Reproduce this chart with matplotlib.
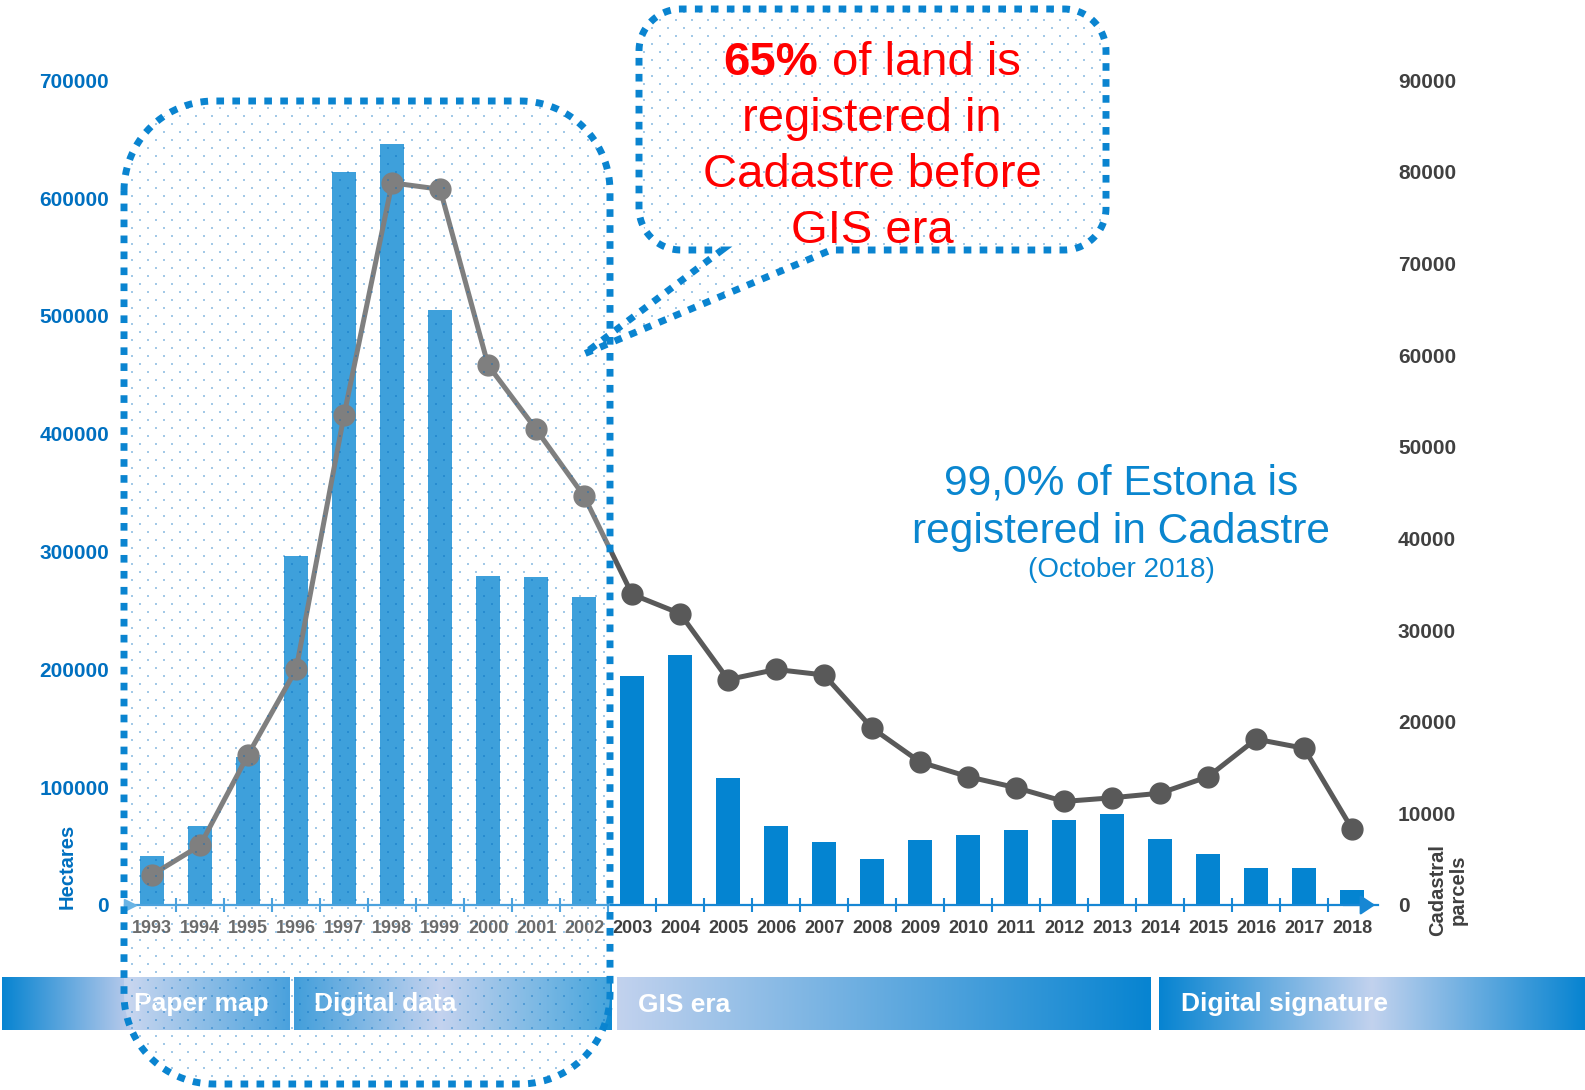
import numpy as np
import matplotlib
matplotlib.use("Agg")
import matplotlib.pyplot as plt
from matplotlib.patches import PathPatch
from matplotlib.path import Path
from matplotlib.colors import LinearSegmentedColormap

plt.rcParams['font.family'] = ['Liberation Sans', 'DejaVu Sans']

# ---------------- data ----------------
years = [str(y) for y in range(1993, 2019)]
hectares = [41500, 67000, 126000, 296000, 622000, 646000, 505000, 279000, 278000, 261000,
            194000, 212000, 108000, 67000, 53500, 39000, 55000, 59000, 64000, 72500,
            77500, 56000, 43000, 31000, 31000, 12500]
parcels = [3300, 6500, 16400, 25700, 53500, 78800, 78100, 58900, 51900, 44600,
           33900, 31800, 24600, 25700, 25100, 19300, 15600, 14000, 12800, 11300,
           11700, 12200, 14000, 18100, 17100, 8300]
left_ticks = [0, 100000, 200000, 300000, 400000, 500000, 600000, 700000]
right_ticks = [0, 10000, 20000, 30000, 40000, 50000, 60000, 70000, 80000, 90000]
eras = ['Paper map', 'Digital data', 'GIS era', 'Digital signature']
callout_lines = ['registered in', 'Cadastre before', 'GIS era']
note_lines = ['99,0% of Estona is', 'registered in Cadastre', '(October 2018)']

# ---------------- style ----------------
W, H = 1585, 1090
BAR = '#0484D1'
LINE = '#595959'
AXBLUE = '#1787D4'
LBLUE = '#0070C0'
DGRAY = '#404040'
BORDER = '#0A84D0'

fig = plt.figure(figsize=(W / 100, H / 100), dpi=100)
fig.patch.set_facecolor('white')

ax_l, ax_r, ax_b, ax_t = 125, 1378, 905, 80.2
ax = fig.add_axes([ax_l / W, 1 - ax_b / H, (ax_r - ax_l) / W, (ax_b - ax_t) / H])
ax.patch.set_visible(False)
x = np.arange(len(years))
ax.bar(x, hectares, width=0.5, color=BAR, zorder=2)
ax.set_xlim(-0.565, 25.54)
ax.set_ylim(0, 700000)
ax.set_yticks(left_ticks)
ax.set_yticklabels([str(v) for v in left_ticks], fontsize=15, fontweight='bold', color=LBLUE)
ax.tick_params(axis='y', length=0, pad=11.5)
ax.set_xticks(x)
ax.set_xticklabels(years, fontsize=13, fontweight='bold', color=DGRAY)
ax.tick_params(axis='x', which='major', length=0, pad=11)
ax.set_xticks(x[:-1] + 0.5, minor=True)
ax.tick_params(axis='x', which='minor', direction='inout', length=10, width=1.5, color=AXBLUE)
for s in ['left', 'right', 'top']:
    ax.spines[s].set_visible(False)
ax.spines['bottom'].set_color(AXBLUE)
ax.spines['bottom'].set_linewidth(1.6)
ax.set_ylabel('Hectares', fontsize=14.5, fontweight='bold', color=LBLUE, va='center')
ax.yaxis.set_label_coords((67 - ax_l) / (ax_r - ax_l), (ax_b - 866) / (ax_b - ax_t))
# axis arrows
ax.annotate('', xy=(1.0, 0), xytext=(0.97, 0), xycoords='axes fraction',
            arrowprops=dict(arrowstyle='-|>,head_length=0.45,head_width=0.3',
                            color=AXBLUE, lw=1.6, mutation_scale=20),
            annotation_clip=False)
ax.plot([0.004], [0], marker='>', ms=9, color='#3C9DDC', transform=ax.transAxes,
        clip_on=False, zorder=5)

ax2 = ax.twinx()
ax2.plot(x, parcels, color=LINE, lw=3.6, marker='o', ms=15, clip_on=False, zorder=3)
ax2.set_ylim(0, 90000)
ax2.set_yticks(right_ticks)
ax2.set_yticklabels([str(v) for v in right_ticks], fontsize=15, fontweight='bold', color=DGRAY)
ax2.tick_params(axis='y', length=0, pad=14.4)
for s in ax2.spines.values():
    s.set_visible(False)
ax2.set_ylabel('Cadastral\nparcels', fontsize=14.5, fontweight='bold', color=DGRAY,
               va='center', ha='center', multialignment='center', rotation=90, linespacing=1.05)
ax2.yaxis.set_label_coords((1448 - ax_l) / (ax_r - ax_l), (ax_b - 890) / (ax_b - ax_t))

# ---------------- overlay (pixel coordinates) ----------------
ov = fig.add_axes([0, 0, 1, 1], zorder=10)
ov.patch.set_visible(False)
ov.axis('off')


def hgrad(x0, x1, y0, y1, stops, z=1):
    cmap = LinearSegmentedColormap.from_list('g', stops)
    ov.imshow(np.linspace(0, 1, 256)[None, :], extent=(x0, x1, y1, y0), cmap=cmap,
              aspect='auto', zorder=z, interpolation='bilinear')


band_top, band_bot = 977, 1030
spans = [(2, 290), (294, 612), (617, 1151), (1159, 1585)]
stops = [
    [(0, '#0784D1'), (0.44, '#B8CAEB'), (1, '#1486D3')],
    [(0, '#0A82D0'), (0.46, '#B3C6EA'), (1, '#0E8AD2')],
    [(0, '#C2D2EE'), (1, '#0784D1')],
    [(0, '#0784D1'), (0.5, '#C2D2EE'), (1, '#0784D1')],
]
text_x = [134, 314, 638, 1181]
for (x0, x1), st, name, tx in zip(spans, stops, eras, text_x):
    hgrad(x0, x1, band_top, band_bot, st)
    ov.text(tx, (band_top + band_bot) / 2 + 1, name, color='white', fontsize=19,
            fontweight='bold', ha='left', va='center', zorder=2)


def rounded_path(x0, y0, x1, y1, r, tail=None, n=30):
    pts = []

    def arc(cx, cy, a0, a1):
        t = np.radians(np.linspace(a0, a1, n))
        return list(zip(cx + r * np.cos(t), cy + r * np.sin(t)))
    pts += arc(x0 + r, y0 + r, 180, 270)
    pts += arc(x1 - r, y0 + r, 270, 360)
    pts += arc(x1 - r, y1 - r, 0, 90)
    if tail:
        pts += tail
    pts += arc(x0 + r, y1 - r, 90, 180)
    pts.append(pts[0])
    return Path(pts, closed=True)


# staggered dot texture (decoration), rows every 8 px, columns every 16 px
gy = np.arange(0, H, 8.0)
dots_x, dots_y = [], []
for i, yy in enumerate(gy):
    xs = np.arange(4 + (8 if i % 2 else 0), W, 16.0)
    dots_x.append(xs)
    dots_y.append(np.full_like(xs, yy + 4))
dots_x = np.concatenate(dots_x)
dots_y = np.concatenate(dots_y)


def dotted_box(path, white_alpha):
    fill = PathPatch(path, facecolor=(1, 1, 1, white_alpha), edgecolor='none', zorder=3)
    ov.add_patch(fill)
    bb = path.get_extents()
    m = (dots_x > bb.x0) & (dots_x < bb.x1) & (dots_y > bb.y0) & (dots_y < bb.y1)
    sc = ov.scatter(dots_x[m], dots_y[m], s=3.2, marker='s', linewidths=0,
                    color=(0.0, 0.42, 0.75, 0.36), zorder=3.1)
    sc.set_clip_path(fill)
    border = PathPatch(path, fill=False, edgecolor=BORDER, lw=5,
                       linestyle=(0, (1.1, 1.2)), zorder=3.2)
    border.set_capstyle('butt')
    ov.add_patch(border)


dotted_box(rounded_path(124, 101, 610, 1084, 90), 0.23)
dotted_box(rounded_path(639, 9, 1106, 250, 42,
                        tail=[(831, 250), (584, 354), (722, 250)]), 0.0)

ov.set_xlim(0, W)
ov.set_ylim(H, 0)

# callout text
RED = '#FF0000'
cx = 872
fs = 34
t1 = ov.text(0, 75, '65%', color=RED, fontsize=fs, fontweight='bold', ha='left',
             va='baseline', zorder=4)
t2 = ov.text(0, 75, 'of land is', color=RED, fontsize=fs, ha='left', va='baseline', zorder=4)
renderer = fig.canvas.get_renderer()
w1 = t1.get_window_extent(renderer).width
w2 = t2.get_window_extent(renderer).width
gap = 0.278 * fs * 100 / 72
left = cx - (w1 + gap + w2) / 2
t1.set_x(left)
t2.set_x(left + w1 + gap)
for line, yb in zip(callout_lines, [131, 187, 243]):
    ov.text(cx, yb, line, color=RED, fontsize=fs, ha='center', va='baseline', zorder=4)

# note text
NB = '#0A86CF'
ov.text(1121, 495, note_lines[0], color=NB, fontsize=30.6, ha='center', va='baseline', zorder=4)
ov.text(1121, 543, note_lines[1], color=NB, fontsize=30.6, ha='center', va='baseline', zorder=4)
ov.text(1121, 577, note_lines[2], color=NB, fontsize=20, ha='center', va='baseline', zorder=4)

fig.savefig('out.png', dpi=100)
